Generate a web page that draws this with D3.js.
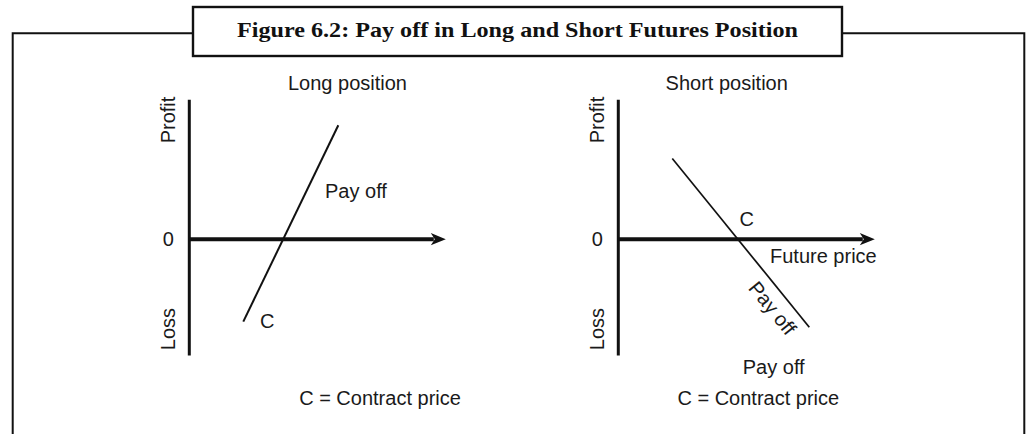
<!DOCTYPE html>
<html>
<head>
<meta charset="utf-8">
<script src="https://cdn.jsdelivr.net/npm/d3@7"></script>
<style>
  body { margin: 0; background: #fff; }
  svg { display: block; }
  .label { font-family: "Liberation Sans", Arial, sans-serif; font-size: 20px; fill: #1a1a1a; }
  .title { font-family: "Liberation Serif", "Times New Roman", serif; font-weight: bold; font-size: 21px; fill: #111; }
</style>
</head>
<body>
<svg id="chart"></svg>
<script>
// chart values
const title = 'Figure 6.2: Pay off in Long and Short Futures Position';
const panelTitles = ['Long position', 'Short position'];
const priceDomain = [0, 12.8];
const valueDomain = [-5.8, 7];
const longPrice = [2.7, 7.45];
const longValue = [-4.13, 5.7];
const shortPrice = [2.7, 9.55];
const shortValue = [4.04, -4.41];
const axisLabels = ['Profit', 'Loss', '0'];
const payoffLabel = 'Pay off';
const contractLabel = 'C';
const priceLabel = 'Future price';
const note = 'C = Contract price';

const width = 1027;
const height = 434;

const svg = d3.select('#chart')
  .attr('width', width)
  .attr('height', height);

// outer frame, open at the bottom
svg.append('path')
  .attr('d', `M12.7,${height} V33.3 H1024.3 V${height}`)
  .attr('fill', 'none')
  .attr('stroke', '#111')
  .attr('stroke-width', 2);

svg.append('rect')
  .attr('x', 193)
  .attr('y', 7)
  .attr('width', 842 - 193)
  .attr('height', 56 - 7)
  .attr('fill', '#fff')
  .attr('stroke', '#111')
  .attr('stroke-width', 2.4);

svg.append('text')
  .attr('class', 'title')
  .attr('x', 237)
  .attr('y', 37)
  .attr('textLength', 561)
  .attr('lengthAdjust', 'spacingAndGlyphs')
  .text(title);

// arrow head for the price axis
svg.append('defs').append('marker')
  .attr('id', 'arrow')
  .attr('markerUnits', 'userSpaceOnUse')
  .attr('viewBox', '-4 -7 18 14')
  .attr('markerWidth', 18)
  .attr('markerHeight', 14)
  .attr('refX', 0)
  .attr('refY', 0)
  .attr('orient', 'auto')
  .append('path')
    .attr('d', 'M-3,-6.2L12,0L-3,6.2L1,0Z')
    .attr('fill', '#111');

const yScale = d3.scaleLinear()
  .domain(valueDomain)
  .range([355, 99.3]);

function drawPanel(x0, prices, values, lineWidth) {
  const xScale = d3.scaleLinear()
    .domain(priceDomain)
    .range([x0, x0 + 256]);

  const g = svg.append('g');

  // profit / loss axis
  const yAxis = d3.axisLeft(yScale).tickValues([]).tickSizeOuter(0);
  g.append('g')
    .attr('transform', `translate(${x0 - 0.5}, 0)`)
    .call(yAxis)
    .select('.domain')
      .attr('stroke', '#111')
      .attr('stroke-width', 3);

  // price axis, shaft stops where the arrow head begins
  const shaft = xScale.copy().range([x0, x0 + 256 - 12]);
  const xAxis = d3.axisBottom(shaft).tickValues([]).tickSizeOuter(0);
  g.append('g')
    .attr('transform', `translate(0, ${yScale(0) - 0.5})`)
    .call(xAxis)
    .select('.domain')
      .attr('stroke', '#111')
      .attr('stroke-width', 4)
      .attr('marker-end', 'url(#arrow)');

  const line = d3.line()
    .x(d => xScale(d[0]))
    .y(d => yScale(d[1]));

  g.append('path')
    .datum(d3.zip(prices, values))
    .attr('d', line)
    .attr('fill', 'none')
    .attr('stroke', '#111')
    .attr('stroke-width', lineWidth);

  g.append('text')
    .attr('class', 'label')
    .attr('transform', `translate(${x0 - 14.5}, 120) rotate(-90)`)
    .attr('text-anchor', 'middle')
    .text(axisLabels[0]);

  g.append('text')
    .attr('class', 'label')
    .attr('transform', `translate(${x0 - 14.5}, 329) rotate(-90)`)
    .attr('text-anchor', 'middle')
    .text(axisLabels[1]);

  g.append('text')
    .attr('class', 'label')
    .attr('x', x0 - 21)
    .attr('y', yScale(0) + 7)
    .attr('text-anchor', 'middle')
    .text(axisLabels[2]);

  return { g, xScale };
}

// long position
const long = drawPanel(189.3, longPrice, longValue, 2);

long.g.append('text')
  .attr('class', 'label')
  .attr('x', 347.5)
  .attr('y', 90)
  .attr('text-anchor', 'middle')
  .text(panelTitles[0]);

long.g.append('text')
  .attr('class', 'label')
  .attr('x', 325)
  .attr('y', 197.5)
  .text(payoffLabel);

long.g.append('text')
  .attr('class', 'label')
  .attr('x', 260)
  .attr('y', 328)
  .text(contractLabel);

long.g.append('text')
  .attr('class', 'label')
  .attr('x', 380)
  .attr('y', 405)
  .attr('text-anchor', 'middle')
  .text(note);

// short position
const short = drawPanel(618.3, shortPrice, shortValue, 1.7);

short.g.append('text')
  .attr('class', 'label')
  .attr('x', 726.7)
  .attr('y', 90)
  .attr('text-anchor', 'middle')
  .text(panelTitles[1]);

short.g.append('text')
  .attr('class', 'label')
  .attr('x', 739.5)
  .attr('y', 226)
  .text(contractLabel);

short.g.append('text')
  .attr('class', 'label')
  .attr('x', 770)
  .attr('y', 262.5)
  .text(priceLabel);

const angle = Math.atan2(
  yScale(shortValue[1]) - yScale(shortValue[0]),
  short.xScale(shortPrice[1]) - short.xScale(shortPrice[0])
) * 180 / Math.PI;

short.g.append('text')
  .attr('class', 'label')
  .attr('transform', `translate(767, 312.5) rotate(${angle})`)
  .attr('text-anchor', 'middle')
  .text(payoffLabel);

short.g.append('text')
  .attr('class', 'label')
  .attr('x', 773.7)
  .attr('y', 374)
  .attr('text-anchor', 'middle')
  .text(payoffLabel);

short.g.append('text')
  .attr('class', 'label')
  .attr('x', 758.3)
  .attr('y', 405)
  .attr('text-anchor', 'middle')
  .text(note);
</script>
</body>
</html>
